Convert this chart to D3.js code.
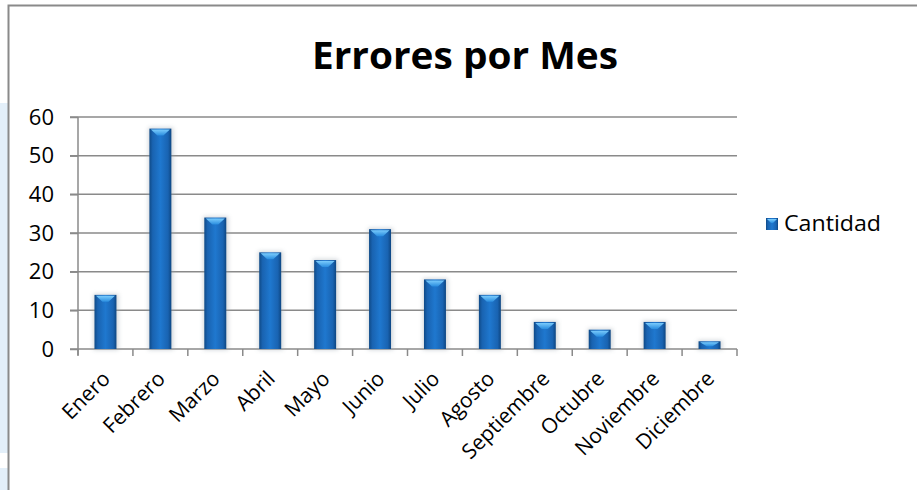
<!DOCTYPE html>
<html><head><meta charset="utf-8">
<script src="https://cdn.jsdelivr.net/npm/d3@7"></script>
<style>html,body{margin:0;padding:0;background:#fff;}svg{display:block;}</style>
</head><body>
<script>
const months = ["Enero","Febrero","Marzo","Abril","Mayo","Junio","Julio","Agosto","Septiembre","Octubre","Noviembre","Diciembre"];
const cantidad = [14,57,34,25,23,31,18,14,7,5,7,2];
const yTicks = [0,10,20,30,40,50,60];
const seriesName = "Cantidad";
const title = "Errores por Mes";

const W = 917, H = 490;
const svg = d3.select("body").append("svg").attr("width", W).attr("height", H);
const font = "'Open Sans', 'Noto Sans', sans-serif";

// left background stripes
svg.append("rect").attr("x",0).attr("y",103).attr("width",8).attr("height",350).attr("fill","#e3eff9");
svg.append("rect").attr("x",0).attr("y",468).attr("width",8).attr("height",22).attr("fill","#e3eff9");

// frame
svg.append("path").attr("d","M8.5,490 V5.5 H917").attr("fill","none").attr("stroke","#8a8a8a").attr("stroke-width",2);

const defs = svg.append("defs");
const g1 = defs.append("linearGradient").attr("id","barGrad").attr("x1","0").attr("x2","1").attr("y1","0").attr("y2","0");
[[0,"#0f4a87"],[0.15,"#1963b1"],[0.5,"#1f78cf"],[0.85,"#1963b1"],[1,"#0d4682"]].forEach(([o,c])=>g1.append("stop").attr("offset",o).attr("stop-color",c));
const g2 = defs.append("linearGradient").attr("id","capGrad").attr("x1","0").attr("x2","0").attr("y1","0").attr("y2","1");
[[0,"#7fd0ff"],[1,"#2a8ee0"]].forEach(([o,c])=>g2.append("stop").attr("offset",o).attr("stop-color",c));
const blur = defs.append("filter").attr("id","shadow").attr("x","-50%").attr("y","-50%").attr("width","200%").attr("height","200%");
blur.append("feGaussianBlur").attr("stdDeviation",2);

const x = d3.scaleBand().domain(months).range([78, 737]).paddingInner(0.6).paddingOuter(0.3);
const y = d3.scaleLinear().domain([0,60]).range([349,117]);

// gridlines
svg.append("g").selectAll("line").data(yTicks.filter(t=>t>0)).join("line")
  .attr("x1",70).attr("x2",737).attr("y1",d=>y(d)).attr("y2",d=>y(d))
  .attr("stroke","#8a8a8a").attr("stroke-width",1.5);

// y axis
const yAxis = d3.axisLeft(y).tickValues(yTicks).tickSize(8).tickPadding(16).tickFormat(d3.format("d"));
const ya = svg.append("g").attr("transform","translate(78,0)").call(yAxis);
ya.select(".domain").attr("stroke","#8a8a8a").attr("stroke-width",1.5).attr("d",`M0,${y(60)}V${y(0)+6}`);
ya.selectAll(".tick line").attr("stroke","#8a8a8a").attr("stroke-width",1.5);
ya.selectAll("text").attr("font-family",font).attr("font-size",22).attr("fill","#000");

// x axis
const step = x.step();
const bounds = d3.range(months.length+1).map(i => x.range()[0] + i*step);
svg.append("line").attr("x1",70).attr("x2",x.range()[1]).attr("y1",y(0)).attr("y2",y(0)).attr("stroke","#8a8a8a").attr("stroke-width",1.5);
svg.append("g").selectAll("line").data(bounds).join("line")
  .attr("x1",d=>d).attr("x2",d=>d).attr("y1",y(0)).attr("y2",y(0)+7)
  .attr("stroke","#8a8a8a").attr("stroke-width",1.5);

svg.append("g").selectAll("text").data(months).join("text")
  .attr("transform",d=>`translate(${x(d)+x.bandwidth()/2+6},${y(0)+31}) rotate(-45)`)
  .attr("text-anchor","end").attr("font-family",font).attr("font-size",21).attr("fill","#000")
  .text(d=>d);

// bars
const bw = x.bandwidth();
const bars = svg.append("g").selectAll("g").data(months.map((m,i)=>({m,v:cantidad[i]}))).join("g");
bars.append("rect").attr("x",d=>x(d.m)-1).attr("y",d=>y(d.v)-1).attr("width",bw+3).attr("height",d=>y(0)-y(d.v)+2)
  .attr("fill","#9aa4ad").attr("opacity",0.45).attr("filter","url(#shadow)");
bars.append("rect").attr("x",d=>x(d.m)).attr("y",d=>y(d.v)).attr("width",bw).attr("height",d=>y(0)-y(d.v))
  .attr("fill","url(#barGrad)");
bars.append("path").attr("d",d=>{
  const x0=x(d.m)+1.5, x1=x(d.m)+bw-1.5, yt=y(d.v)+1, h=Math.min(6,(y(0)-y(d.v))/2);
  return `M${x0},${yt}H${x1}L${(x0+x1)/2+3},${yt+h}H${(x0+x1)/2-3}Z`;
}).attr("fill","url(#capGrad)").attr("opacity",0.95);

// legend
const lg = svg.append("g").attr("transform","translate(766,218)");
lg.append("rect").attr("width",12).attr("height",12).attr("fill","url(#barGrad)");
lg.append("path").attr("d","M1,1H11L7,5H5Z").attr("fill","url(#capGrad)");
lg.append("text").attr("x",18).attr("y",13).attr("font-family",font).attr("font-size",21).attr("fill","#000")
  .attr("textLength",97).attr("lengthAdjust","spacingAndGlyphs").text(seriesName);

// title
svg.append("text").attr("x",465).attr("y",69).attr("text-anchor","middle").attr("font-family",font)
  .attr("font-weight","bold").attr("font-size",37).attr("fill","#000")
  .attr("textLength",306).attr("lengthAdjust","spacingAndGlyphs").text(title);
</script>
</body></html>
